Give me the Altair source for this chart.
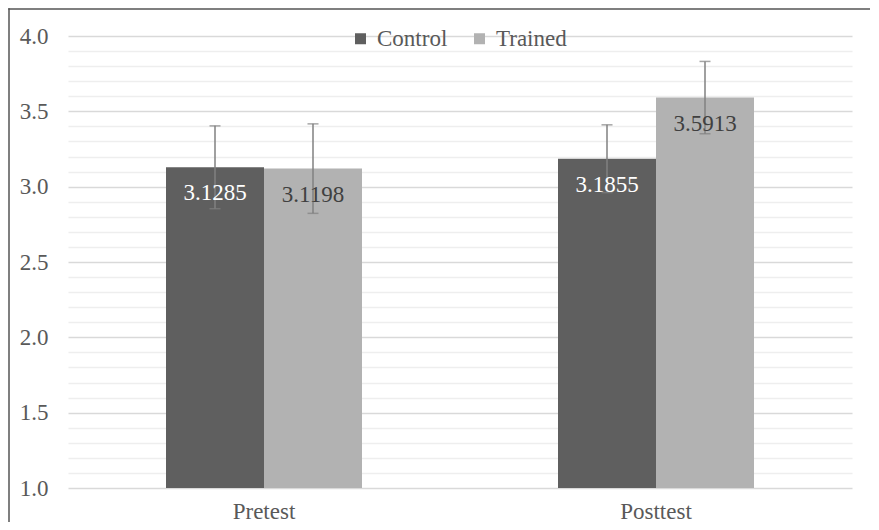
import altair as alt
import pandas as pd

tests = ["Pretest", "Pretest", "Posttest", "Posttest"]
groups = ["Control", "Trained", "Control", "Trained"]
means = [3.1285, 3.1198, 3.1855, 3.5913]
errors = [0.275, 0.297, 0.225, 0.24]
labels = ["3.1285", "3.1198", "3.1855", "3.5913"]
y_ticks = [round(1.0 + 0.1 * i, 1) for i in range(31)]

df = pd.DataFrame({"test": tests, "group": groups, "mean": means, "err": errors, "label": labels})
df["lo"] = df["mean"] - df["err"]
df["hi"] = df["mean"] + df["err"]

FONT = "Liberation Serif"
major = "abs(datum.value*2 - round(datum.value*2)) < 0.01"

x_enc = alt.X("test:N", sort=["Pretest", "Posttest"], title=None,
              scale=alt.Scale(paddingInner=0.5, paddingOuter=0.25),
              axis=alt.Axis(domain=False, ticks=False, labelAngle=0, labelPadding=12,
                            labelFont=FONT, labelFontSize=23, labelColor="#595959", grid=False))
xo = alt.XOffset("group:N", sort=["Control", "Trained"], scale=alt.Scale(paddingInner=0, paddingOuter=0))
y_scale = alt.Scale(domain=[1.0, 4.0], nice=False, zero=False)
y_axis = alt.Axis(values=y_ticks, domain=False, ticks=False, labelPadding=20,
                  labelOverlap=False, title=None,
                  labelFont=FONT, labelFontSize=23, labelColor="#595959",
                  labelExpr=major + " ? format(datum.value, '.1f') : ''",
                  gridColor={"condition": {"test": major, "value": "#d9d9d9"}, "value": "#eeeeee"},
                  gridWidth=1.3)

base = alt.Chart(df)

bars = base.mark_bar(stroke=None).encode(
    x=x_enc,
    xOffset=xo,
    y=alt.Y("mean:Q", scale=y_scale, title=None, axis=y_axis),
    y2=alt.datum(1.0),
    color=alt.Color("group:N", sort=["Control", "Trained"],
                    scale=alt.Scale(domain=["Control", "Trained"], range=["#5f5f5f", "#b2b2b2"]),
                    legend=alt.Legend(title=None, orient="none", direction="horizontal",
                                      legendX=281, legendY=-9, padding=0,
                                      symbolType="square", symbolSize=121, symbolStrokeWidth=0,
                                      labelFont=FONT, labelFontSize=23, labelColor="#595959",
                                      labelOffset=5, columnPadding=20)),
)

rules = base.mark_rule(color="#808080", strokeWidth=1.5).encode(
    x=x_enc, xOffset=xo,
    y=alt.Y("lo:Q", scale=y_scale, title=None, axis=y_axis), y2="hi:Q",
)
caps_hi = base.mark_tick(color="#808080", thickness=1.5, size=11).encode(
    x=x_enc, xOffset=xo, y=alt.Y("hi:Q", scale=y_scale, title=None, axis=y_axis))
caps_lo = base.mark_tick(color="#808080", thickness=1.5, size=11).encode(
    x=x_enc, xOffset=xo, y=alt.Y("lo:Q", scale=y_scale, title=None, axis=y_axis))

text = base.mark_text(font=FONT, fontSize=23, dy=26, baseline="middle").encode(
    x=x_enc, xOffset=xo,
    y=alt.Y("mean:Q", scale=y_scale, title=None, axis=y_axis),
    text="label:N",
    color=alt.condition(alt.datum.group == "Control", alt.value("#ffffff"), alt.value("#404040")),
)

frame = alt.Chart(alt.Data(values=[{"a": 1}]))
border_left = frame.mark_rule(color="#555555", strokeWidth=1.5).encode(
    x=alt.value(-59), y=alt.value(-27.75), y2=alt.value(486))
border_top = frame.mark_rule(color="#555555", strokeWidth=1.5).encode(
    x=alt.value(-59.75), x2=alt.value(802), y=alt.value(-27))

chart = alt.layer(bars, rules, caps_hi, caps_lo, text, border_left, border_top).properties(
    width=784, height=452,
    autosize=alt.AutoSizeParams(type="none"),
    padding={"left": 60, "top": 28, "right": 18, "bottom": 34},
    background="white",
).configure_view(stroke=None)

chart.save("out.html", embed_options={"renderer": "svg", "actions": False})
